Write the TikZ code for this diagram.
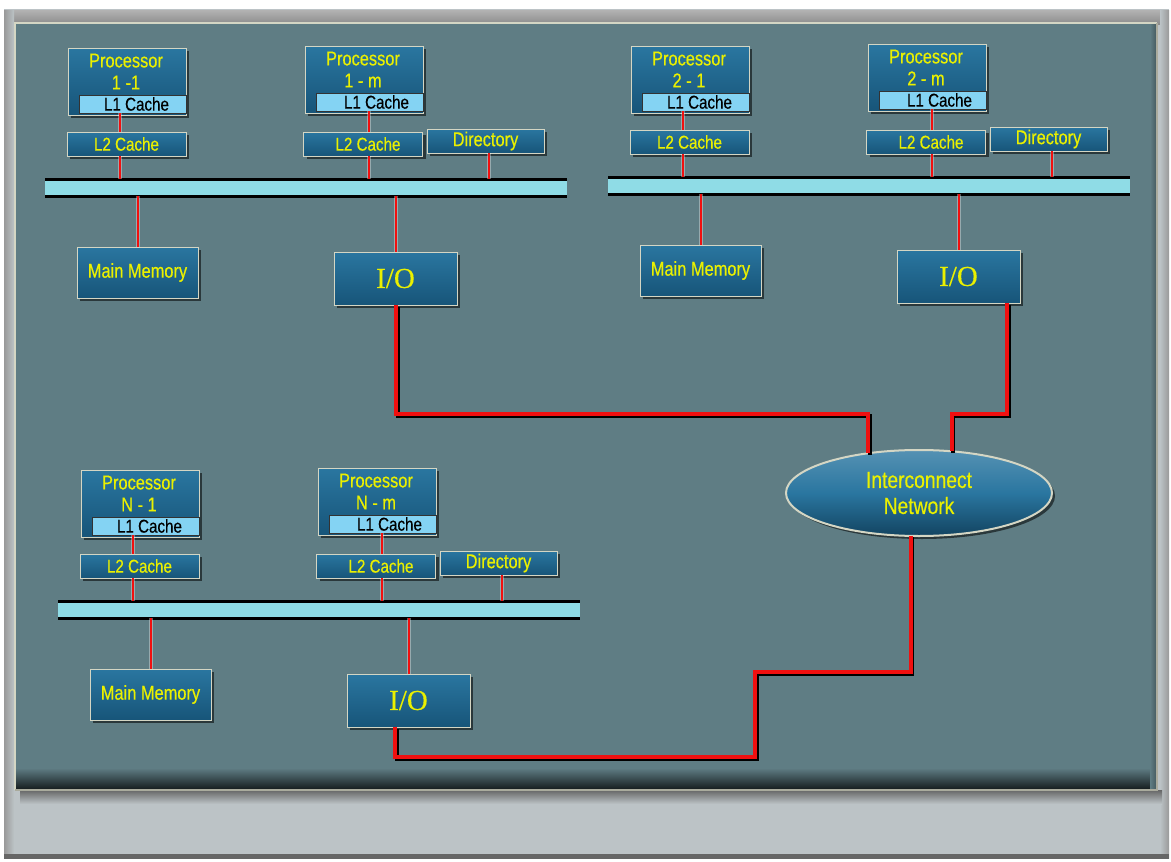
\documentclass[tikz,border=0pt]{standalone}
\usepackage{fontspec}
\newfontfamily\cond{Liberation Sans}[FakeStretch=0.82,FakeBold=0.4]
\newfontfamily\serifio{Liberation Serif}[FakeBold=0.3]
\usetikzlibrary{shapes.geometric,shadows}
\definecolor{panel}{HTML}{5F7D84}
\definecolor{boxtop}{HTML}{2A76A0}
\definecolor{boxbot}{HTML}{175579}
\definecolor{edge}{HTML}{D4D6C4}
\definecolor{txt}{HTML}{EAF000}
\definecolor{lblue}{HTML}{84D3F3}
\definecolor{busfill}{HTML}{8FDCE6}
\definecolor{frame}{HTML}{BCC3C6}
\definecolor{wirered}{HTML}{F01010}
\tikzset{
 blk/.style={rectangle, inner sep=0pt, outer sep=0pt, top color=boxtop, bottom color=boxbot, draw=edge, line width=1pt, text=txt,
   font=\cond\fontsize{20}{22}\selectfont,
   drop shadow={shadow xshift=3pt, shadow yshift=-3pt, opacity=.55, fill=black}},
 proc/.style={blk, minimum width=118pt, minimum height=67pt},
 ptext/.style={text=txt, align=center, font=\cond\fontsize{20}{22}\selectfont, inner sep=0pt},
 lonebox/.style={rectangle, inner sep=0pt, outer sep=0pt, fill=lblue, draw=black!80, line width=1pt, minimum width=107pt, minimum height=18pt,
   font=\cond\fontsize{18.5}{18}\selectfont, text=black},
 ltwo/.style={blk, minimum width=119pt, minimum height=24pt, font=\cond\fontsize{18.5}{18}\selectfont},
 dirbox/.style={blk, minimum width=117pt, minimum height=24pt},
 mem/.style={blk, minimum width=121pt, minimum height=51pt},
 iobox/.style={blk, minimum width=123pt, minimum height=53pt, font=\serifio\fontsize{29}{29}\selectfont},
 busbar/.style={rectangle, fill=busfill, minimum width=522pt, minimum height=17pt, inner sep=0pt, outer sep=0pt},
 busedge/.style={draw=black, line width=3pt},
 wire/.style={draw=wirered, line width=2pt, preaction={draw=white, opacity=.35, line width=4pt}},
 netline/.style={draw=wirered, line width=4pt, line join=miter,
   preaction={draw=black, line width=4pt, transform canvas={xshift=1.5pt, yshift=-1.5pt}}},
 netnode/.style={ellipse, inner sep=0pt, outer sep=0pt, minimum width=266pt, minimum height=86pt,
   top color=boxtop!80!white, bottom color=boxbot!80!black, middle color=boxtop, draw=edge, line width=2pt,
   text=txt, align=center, font=\cond\fontsize{23.5}{26}\selectfont,
   drop shadow={shadow xshift=3pt, shadow yshift=-3pt, opacity=.55, fill=black}},
}
% #1 prefix, #2 dx, #3 dy, #4 label a, #5 label b
\newcommand\cluster[5]{%
\begin{scope}[shift={(#2,#3)}]
 \node[busbar] (#1bus) at (306,187.5) {};
 \draw[busedge] (#1bus.north west) -- (#1bus.north east);
 \draw[busedge] (#1bus.south west) -- (#1bus.south east);
 % processor a
 \node[proc] (#1pa) at (127,81.5) {};
 \node[ptext] (#1pat) at (126,71.5) {Processor\\#4};
 \node[lonebox] (#1la) at (132.5,104) {\hspace*{8pt}L1 Cache};
 \node[ltwo] (#1l2a) at (126.5,144) {L2 Cache};
 % processor b
 \node[proc] (#1pb) at (364,79.5) {};
 \node[ptext] (#1pbt) at (363,69.5) {Processor\\#5};
 \node[lonebox] (#1lb) at (369.5,102) {\hspace*{14pt}L1 Cache};
 \node[ltwo] (#1l2b) at (363,144) {\hspace*{10pt}L2 Cache};
 \node[dirbox] (#1dir) at (485.5,141) {Directory};
 \node[mem] (#1mem) at (137.5,272.5) {Main Memory};
 \node[iobox] (#1io) at (395.5,278.5) {I/O};
 % wires
 \path ([xshift=-6.5pt]#1l2a.north) coordinate (#1wa1) ([xshift=-6.5pt]#1l2a.south) coordinate (#1wa2);
 \path ([xshift=6pt]#1l2b.north) coordinate (#1wb1) ([xshift=6pt]#1l2b.south) coordinate (#1wb2);
 \path ([xshift=3.5pt]#1dir.south) coordinate (#1wd);
 \draw[wire] (#1la.south -| #1wa1) -- (#1wa1);
 \draw[wire] (#1wa2) -- (#1wa2 |- #1bus.north);
 \draw[wire] (#1lb.south -| #1wb1) -- (#1wb1);
 \draw[wire] (#1wb2) -- (#1wb2 |- #1bus.north);
 \draw[wire] (#1wd) -- (#1wd |- #1bus.north);
 \draw[wire] (#1mem.north |- #1bus.south) -- (#1mem.north);
 \draw[wire] (#1io.north |- #1bus.south) -- (#1io.north);
\end{scope}}
\begin{document}
\begin{tikzpicture}[x=1pt,y=-1pt]
\useasboundingbox (0,0) rectangle (1171,862);
\fill[white] (0,0) rectangle (1171,862);
% outer frame
\fill[frame] (4,9) rectangle (1169,859);
\shade[top color=black!30, bottom color=black!45] (6,10) rectangle (1167,24);
\shade[left color=black!40, right color=frame] (4,10) rectangle (14,858);
\shade[left color=frame, right color=black!40] (1160,10) rectangle (1169,858);
\fill[black!60] (4,854) rectangle (1169,859);
% panel shadow and panel
\shade[top color=black!60, bottom color=frame] (20,790) rectangle (1162,804);
\fill[panel] (15,23) rectangle (1157,790);
\shade[top color=panel, bottom color=black!80!panel] (15,768) rectangle (1157,790);
\shade[left color=panel, right color=black!30!panel] (1150,23) rectangle (1157,790);
\draw[edge, line width=1.5pt] (15,790) -- (15,23) -- (1157,23);
\draw[edge!80!black, line width=1.5pt] (15,790) -- (1157,790) -- (1157,23);
% clusters
\cluster{c1}{0}{0}{1 -1}{1 - m}
\cluster{c2}{563}{-2}{2 - 1}{2 - m}
\cluster{c3}{13}{422}{N - 1}{N - m}
% interconnect
\node[netnode] (net) at (919,493) {Interconnect\\Network};
\draw[netline] ([xshift=0.5pt]c1io.south) -- ++(0,109) -| (net.142.7);
\draw[netline] ([xshift=48.5pt]c2io.south) -- ++(0,111) -| (net.52.5);
\coordinate (turn) at (755,672);
\draw[netline] (net.259.4) |- (turn) -- ++(0,85) -| ([xshift=-13.5pt]c3io.south);
\end{tikzpicture}
\end{document}
